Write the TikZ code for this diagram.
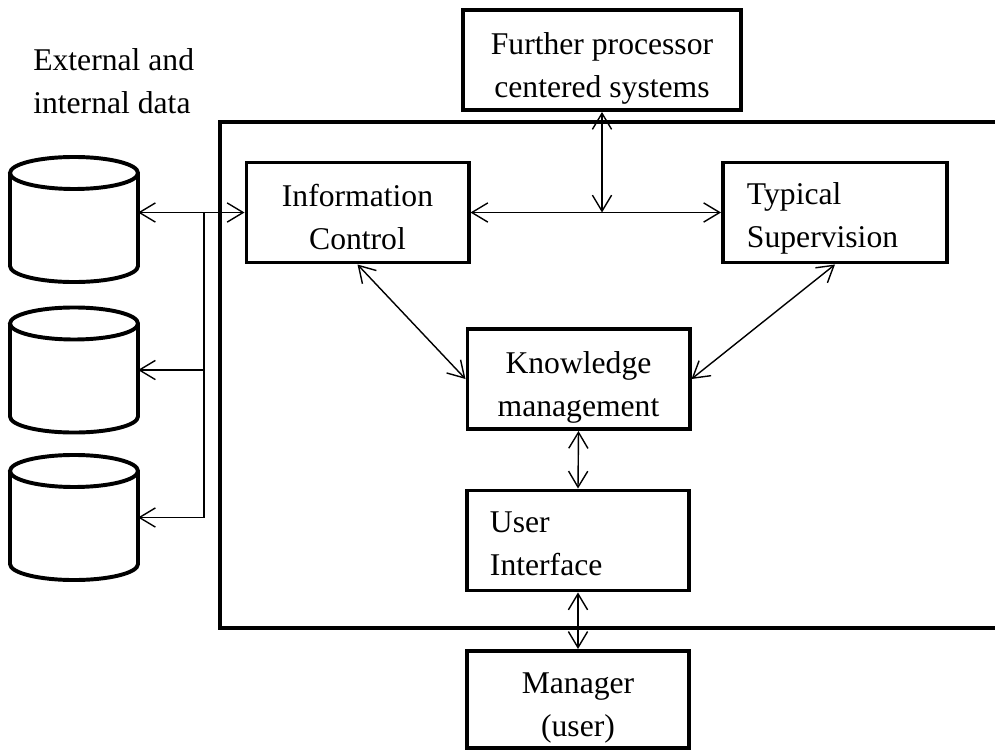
\documentclass[tikz,border=0pt]{standalone}
\usepackage{fontspec}
\setmainfont{Liberation Serif}
\usepackage{tikz}
\usetikzlibrary{arrows.meta}
\usetikzlibrary{positioning}
\usepackage{xcolor}

\begin{document}
\begin{tikzpicture}[x=0.025cm, y=-0.025cm]
		\tikzstyle{block} = [rectangle, draw, line width=2.8pt, fill=white,
		minimum width=5.55cm, minimum height=2.5cm, align=center, inner sep=0pt,
		text height=53pt, text depth=0pt, font=\fontsize{22.5}{30.5}\selectfont]
		\tikzstyle{leftblock} = [block, align=left, text width=4.4cm, inner xsep=0.575cm,
		text height=0pt, text depth=10.7pt]
		\tikzstyle{noblock} = [rectangle, align=left, inner sep=0pt,
		font=\fontsize{22.5}{30.5}\selectfont]
		\tikzstyle{dbbox} = [rectangle, minimum width=3.2cm, minimum height=3.125cm, inner sep=0pt, outer sep=0pt]
		\tikzstyle{dbline} = [draw, line width=2.8pt]
		\tikzstyle{frame} = [draw, line width=2.8pt]
		\tikzstyle{biline} = [draw, line width=1pt, {Straight Barb[length=4mm, width=4.8mm]}-{Straight Barb[length=4mm, width=4.8mm]}]
		\tikzstyle{toline} = [draw, line width=1pt, -{Straight Barb[length=4mm, width=4.8mm]}]

		\useasboundingbox (0,0) rectangle (995,751);

		% Frame of the system
		\draw [frame] (995,122) -| (220,628) -- (995,628);

		% Data bases
		\node [noblock, anchor=west] (datalabel) at (33,81) {External and\\internal data};
		\node [dbbox] (db1) at (74,219.5) {};
		\node [dbbox] (db2) at (74,370) {};
		\node [dbbox] (db3) at (74,517.5) {};
		\foreach \d in {db1,db2,db3}
			\draw [dbline] ([yshift=-0.4cm]\d.north west) -- ([yshift=0.4cm]\d.south west)
				arc[start angle=180, end angle=360, x radius=1.6cm, y radius=0.4cm]
				-- ([yshift=-0.4cm]\d.north east)
				arc[start angle=0, end angle=360, x radius=1.6cm, y radius=0.4cm];

		% Boxes
		\node [block, minimum width=6.95cm] (further) at (602,60) {Further processor\\centered systems};
		\node [block] (info) at (357.5,212.5) {Information\\Control};
		\node [leftblock, text width=4.4cm, inner xsep=0.6cm] (typical) at (835,212.5) {Typical\\Supervision};
		\node [block] (know) at (578.5,379) {Knowledge\\management};
		\node [leftblock] (ui) at (578,540.5) {User\\Interface};
		\node [block, minimum height=2.43cm] (manager) at (578,699.5) {Manager\\(user)};

		% arrows
		\coordinate (bus) at (204,212.5);
		\draw [biline] (db1.east |- info.west) -- (info.west);
		\draw [toline] (bus) |- (db3.east);
		\draw [toline] (bus |- db2.east) -- (db2.east);
		%
		\draw [biline] (info.east) -- (typical.west);
		\draw [biline] (further.south) -- (further.south |- info.east);
		%
		\draw [biline] (info.south) -- (know.west);
		\draw [biline] (typical.south) -- (know.east);
		\draw [biline] (know.south) -- (ui.north);
		\draw [biline] (ui.south) -- (manager.north);

	\end{tikzpicture}
\end{document}
